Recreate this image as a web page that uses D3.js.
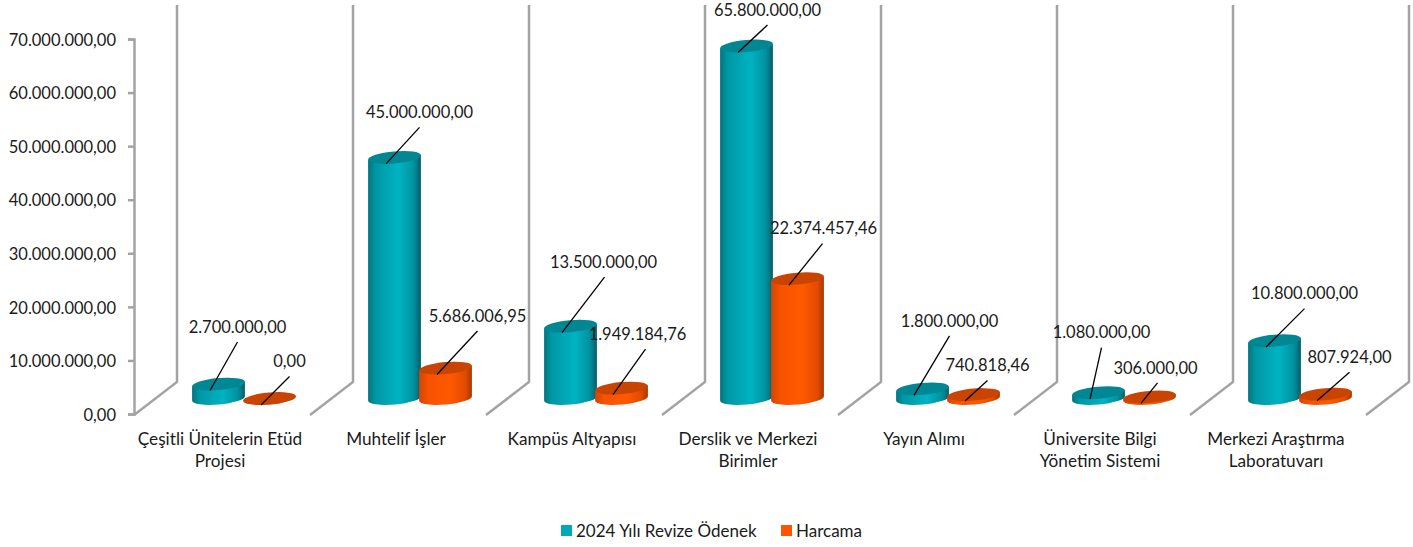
<!DOCTYPE html>
<html>
  <head>
    <meta charset="utf-8">
    <style>
    body {
      margin: 0;
      background: #fff;
    }
    svg { display: block; }
    text {
      font-family: Lato, "Open Sans", sans-serif;
      fill: #1a1a1a;
    }
    </style>
  </head>
  <body>
    <script src="https://d3js.org/d3.v7.min.js"></script>
    <script>
// data
var categories = [
  "Çeşitli Ünitelerin Etüd|Projesi",
  "Muhtelif İşler",
  "Kampüs Altyapısı",
  "Derslik ve Merkezi|Birimler",
  "Yayın Alımı",
  "Üniversite Bilgi|Yönetim Sistemi",
  "Merkezi Araştırma|Laboratuvarı"
];
var seriesNames = ["2024 Yılı Revize Ödenek", "Harcama"];
var odenek = [2700000, 45000000, 13500000, 65800000, 1800000, 1080000, 10800000];
var harcama = [0, 5686006.95, 1949184.76, 22374457.46, 740818.46, 306000, 807924];
var yTicks = [0, 10000000, 20000000, 30000000, 40000000, 50000000, 60000000, 70000000];

// where each data label sits relative to the top of its cylinder: [dx, dy, leader dx]
var odenekLabels = [[19,-57,0],[25,-45,0],[33,-64,1],[21,-36,0],[27,-68,0],[3,-60,0],[30,-47,0]];
var harcamaLabels = [[20,-37,0],[32,-52,0],[16,-54,8],[26,-50,-1],[14,-29,0],[6,-29,2],[24,-37,0]];

var width = 1413, height = 547;
var colors = ["#00a9b8", "#ff5500"];
var topColors = ["#008793", "#c94400"];
var gradStops = [
  [["0%","#00757f"],["14%","#0097a5"],["58%","#00b3c2"],["86%","#0092a0"],["100%","#005f68"]],
  [["0%","#d24600"],["18%","#f75200"],["60%","#ff5900"],["88%","#e04a00"],["100%","#a83800"]]
];

var svg = d3.select("body").append("svg")
    .attr("width", width)
    .attr("height", height);

var defs = svg.append("defs");
gradStops.forEach(function(stops, i){
  var g = defs.append("linearGradient").attr("id", "cyl" + i);
  stops.forEach(function(s){
    g.append("stop").attr("offset", s[0]).attr("stop-color", s[1]);
  });
});

var fmt = d3.formatLocale({decimal: ",", thousands: ".", grouping: [3], currency: ["", ""]}).format(",.2f");

var y = d3.scaleLinear().domain([0, 70000000]).range([414, 39]);
var x0 = d3.scaleBand().domain(categories).range([132, 1364]);
var x1 = d3.scaleBand().domain(seriesNames).range([61, 163]);

var depthX = 43, depthY = 32;   // side walls
var baseLift = 15.5;            // cylinders stand this far behind the axis plane
var rx = 26.5, ry = 6, tilt = -5;
var tiltRad = tilt * Math.PI / 180;

// walls
var wallStarts = categories.map(function(c){ return x0(c) + 2; }).concat([x0.range()[1] + 2]);
svg.selectAll(".wall")
    .data(wallStarts)
  .enter().append("path")
    .attr("class", "wall")
    .attr("d", function(d){
      return "M" + d + "," + (y(0) + 1) + "L" + (d + depthX) + "," + (y(0) - depthY) + "L" + (d + depthX) + ",5";
    })
    .style("fill", "none")
    .style("stroke", "#a3a3a3")
    .style("stroke-width", 2.5);

// y axis
var axis = svg.append("g")
    .attr("transform", "translate(134,0)")
    .call(d3.axisLeft(y).tickValues(yTicks).tickFormat(fmt).tickSize(6).tickPadding(12));
axis.selectAll("path, line").style("stroke", "#a3a3a3").style("stroke-width", 2.5);
axis.selectAll("text").style("font-size", "16.5px").style("font-family", null).attr("dy", ".38em");

// cylinders
function cylinder(sel, d){
  var cx = d.cx, top = y(d.value) - baseLift, bot = y(0) - baseLift;
  var ex = rx * Math.cos(tiltRad), ey = rx * Math.sin(tiltRad);
  sel.append("path")
      .attr("d", "M" + (cx - ex) + "," + (top - ey) +
                 "L" + (cx - ex) + "," + (bot - ey) +
                 "A" + rx + "," + ry + " " + tilt + " 0 0 " + (cx + ex) + "," + (bot + ey) +
                 "L" + (cx + ex) + "," + (top + ey) + "Z")
      .style("fill", "url(#cyl" + d.s + ")");
  sel.append("ellipse")
      .attr("rx", rx)
      .attr("ry", ry)
      .attr("transform", "translate(" + cx + "," + top + ") rotate(" + tilt + ")")
      .style("fill", topColors[d.s]);
}

var bars = [];
categories.forEach(function(c, i){
  [odenek, harcama].forEach(function(vals, s){
    var off = (s === 0 ? odenekLabels : harcamaLabels)[i];
    bars.push({
      value: vals[i], s: s, off: off,
      cx: x0(c) + x1(seriesNames[s]) + x1.bandwidth() / 2
    });
  });
});

svg.selectAll(".cyl")
    .data(bars)
  .enter().append("g")
    .attr("class", "cyl")
    .each(function(d){ cylinder(d3.select(this), d); });

// leader lines and value labels
svg.selectAll(".leader")
    .data(bars)
  .enter().append("line")
    .attr("class", "leader")
    .attr("x1", function(d){ return d.cx + d.off[0] + d.off[2]; })
    .attr("y1", function(d){ return y(d.value) - baseLift + d.off[1] + 15; })
    .attr("x2", function(d){ return d.cx - 8.5; })
    .attr("y2", function(d){ return y(d.value) - baseLift + 6.5; })
    .style("stroke", "#000")
    .style("stroke-width", 1.3);

svg.selectAll(".val")
    .data(bars)
  .enter().append("text")
    .attr("class", "val")
    .attr("x", function(d){ return d.cx + d.off[0]; })
    .attr("y", function(d){ return y(d.value) - baseLift + d.off[1]; })
    .attr("dy", ".35em")
    .attr("text-anchor", "middle")
    .style("font-size", "16.5px")
    .text(function(d){ return fmt(d.value); });

// category labels
svg.selectAll(".cat")
    .data(categories)
  .enter().append("text")
    .attr("class", "cat")
    .attr("text-anchor", "middle")
    .style("font-size", "17.2px")
    .each(function(c){
      d3.select(this).selectAll("tspan")
          .data(c.split("|"))
        .enter().append("tspan")
          .attr("x", x0(c) + x0.bandwidth() / 2)
          .attr("y", function(d, i){ return 445 + i * 22; })
          .text(function(d){ return d; });
    });

// legend
var legendX = [561, 781];
seriesNames.forEach(function(name, i){
  svg.append("rect")
      .attr("x", legendX[i])
      .attr("y", 525)
      .attr("width", 11)
      .attr("height", 11)
      .style("fill", colors[i]);
  svg.append("text")
      .attr("x", legendX[i] + 15)
      .attr("y", 537)
      .style("font-size", "17px")
      .text(name);
});
    </script>
  </body>
</html>
